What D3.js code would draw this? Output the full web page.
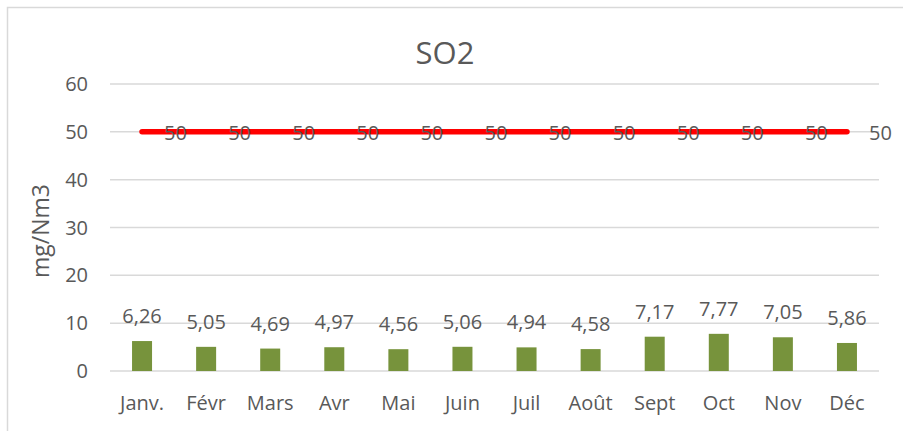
<!DOCTYPE html>
<html><head><meta charset="utf-8">
<script src="https://cdn.jsdelivr.net/npm/d3@7"></script>
<style>body{margin:0;background:#fff;}svg{display:block;}</style>
</head><body>
<script>
const months = ["Janv.","Févr","Mars","Avr","Mai","Juin","Juil","Août","Sept","Oct","Nov","Déc"];
const so2Values = [6.26,5.05,4.69,4.97,4.56,5.06,4.94,4.58,7.17,7.77,7.05,5.86];
const limitValues = [50,50,50,50,50,50,50,50,50,50,50,50];
const yTicks = [0,10,20,30,40,50,60];
const title = "SO2";
const yLabel = "mg/Nm3";

const W = 903, H = 431;
const font = "'Open Sans', sans-serif";
const txt = "#595959";
const svg = d3.select("body").append("svg").attr("width", W).attr("height", H);

svg.append("rect").attr("x",7.5).attr("y",7.5).attr("width",W).attr("height",H)
  .attr("fill","#fff").attr("stroke","#d9d9d9").attr("stroke-width",1.5);

const x = d3.scaleBand().domain(months).range([110, 879]).padding(0);
const y = d3.scaleLinear().domain([0,60]).range([371, 84]);

// gridlines
svg.append("g").selectAll("line").data(yTicks).join("line")
  .attr("x1",110).attr("x2",879)
  .attr("y1",d=>y(d)).attr("y2",d=>y(d))
  .attr("stroke","#d9d9d9").attr("stroke-width",1.5);

// y tick labels
svg.append("g").selectAll("text").data(yTicks).join("text")
  .attr("x",88).attr("y",d=>y(d)+7)
  .attr("text-anchor","end").attr("font-family",font).attr("font-size",20).attr("fill",txt)
  .text(d=>d);

// bars
const bw = 20;
svg.append("g").selectAll("rect").data(so2Values).join("rect")
  .attr("x",(d,i)=>x(months[i])+x.bandwidth()/2-bw/2)
  .attr("width",bw)
  .attr("y",d=>y(d)).attr("height",d=>y(0)-y(d))
  .attr("fill","#77933C");

// bar labels
svg.append("g").selectAll("text").data(so2Values).join("text")
  .attr("x",(d,i)=>x(months[i])+x.bandwidth()/2)
  .attr("y",d=>y(d)-18)
  .attr("text-anchor","middle").attr("font-family",font).attr("font-size",20).attr("fill",txt)
  .text(d=>d.toFixed(2).replace(".",","));

// limit line
const line = d3.line().x((d,i)=>x(months[i])+x.bandwidth()/2).y(d=>y(d));
svg.append("path").datum(limitValues).attr("d",line)
  .attr("fill","none").attr("stroke","#ff0000").attr("stroke-width",5.5).attr("stroke-linecap","round");

svg.append("g").selectAll("text").data(limitValues).join("text")
  .attr("x",(d,i)=>x(months[i])+x.bandwidth()/2+22)
  .attr("y",d=>y(d)+8)
  .attr("font-family",font).attr("font-size",20).attr("fill",txt)
  .text(d=>d);

// x labels
svg.append("g").selectAll("text").data(months).join("text")
  .attr("x",d=>x(d)+x.bandwidth()/2).attr("y",410)
  .attr("text-anchor","middle").attr("font-family",font).attr("font-size",20).attr("fill",txt)
  .text(d=>d);

// title
svg.append("text").attr("x",445).attr("y",64).attr("text-anchor","middle")
  .attr("font-family",font).attr("font-size",31).attr("fill",txt).text(title);

// y label
svg.append("text").attr("transform","translate(49,231) rotate(-90)").attr("text-anchor","middle")
  .attr("font-family",font).attr("font-size",23).attr("fill",txt).text(yLabel);
</script>
</body></html>
